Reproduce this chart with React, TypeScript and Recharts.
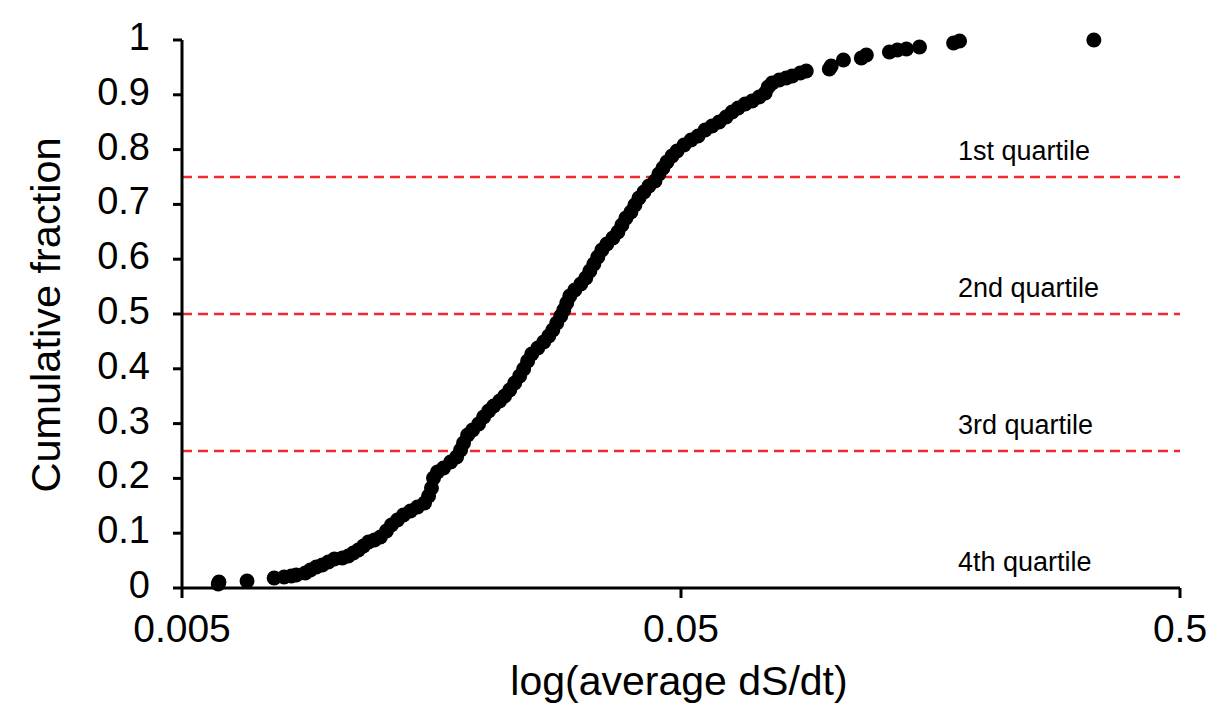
import React from 'react';
import { ScatterChart, Scatter, XAxis, YAxis, ReferenceLine, Label } from 'recharts';

// average dS/dt for each gene (x) and its cumulative fraction (y)
const dsdt = [
  0.00591, 0.00593, 0.00675, 0.00765, 0.00801, 0.00828, 0.00847, 0.00883, 0.00904, 0.00929,
  0.00955, 0.00982, 0.0101, 0.01048, 0.01077, 0.01102, 0.01128, 0.01155, 0.01182, 0.01215,
  0.01249, 0.01284, 0.01314, 0.01351, 0.01389, 0.01435, 0.01482, 0.01531, 0.0156, 0.01581,
  0.01596, 0.01625, 0.01671, 0.01727, 0.01775, 0.01808, 0.01833, 0.01868, 0.01911, 0.01965,
  0.02011, 0.02058, 0.02106, 0.02165, 0.02216, 0.02268, 0.02321, 0.02375, 0.02419, 0.02464,
  0.02511, 0.02582, 0.02654, 0.02716, 0.02767, 0.02818, 0.02871, 0.02911, 0.02951, 0.02993,
  0.03063, 0.03149, 0.03222, 0.03283, 0.03344, 0.03406, 0.0347, 0.03551, 0.03651, 0.03737,
  0.03807, 0.03878, 0.03968, 0.04042, 0.04118, 0.04214, 0.04312, 0.04434, 0.04516, 0.04601,
  0.04686, 0.04796, 0.04909, 0.0507, 0.05237, 0.05409, 0.05587, 0.0577, 0.05961, 0.06156,
  0.06329, 0.06508, 0.06721, 0.06943, 0.07171, 0.07373, 0.07476, 0.07616, 0.07867, 0.08124,
  0.08353, 0.08669, 0.08913, 0.09913, 0.1, 0.1058, 0.1149, 0.1176, 0.1308, 0.1357,
  0.1415, 0.1503, 0.1759, 0.1808, 0.336,
];

const cumFraction = [
  0.0073, 0.0109, 0.0128, 0.0182, 0.0201, 0.0219, 0.0237, 0.0274, 0.0328, 0.0383,
  0.042, 0.0474, 0.0529, 0.0547, 0.0584, 0.0639, 0.0693, 0.0766, 0.0839, 0.0876,
  0.0931, 0.104, 0.115, 0.1241, 0.1332, 0.1405, 0.1478, 0.1551, 0.1679, 0.1825,
  0.2007, 0.2117, 0.219, 0.2299, 0.2391, 0.2518, 0.2646, 0.2792, 0.2883, 0.2993,
  0.312, 0.323, 0.3321, 0.3412, 0.3504, 0.3613, 0.3741, 0.3869, 0.3996, 0.4142,
  0.427, 0.438, 0.4489, 0.4599, 0.4708, 0.4836, 0.4964, 0.5073, 0.5201, 0.5328,
  0.5438, 0.5547, 0.5657, 0.5785, 0.5912, 0.604, 0.6168, 0.6277, 0.6387, 0.6496,
  0.6624, 0.6752, 0.6861, 0.6989, 0.7117, 0.7226, 0.7336, 0.7427, 0.7555, 0.7664,
  0.7774, 0.7883, 0.7974, 0.8084, 0.8175, 0.8248, 0.8358, 0.8431, 0.8504, 0.8595,
  0.8686, 0.8759, 0.8832, 0.8887, 0.896, 0.9033, 0.9142, 0.9215, 0.927, 0.9307,
  0.9343, 0.9398, 0.9434, 0.9471, 0.9526, 0.9635, 0.9672, 0.9726, 0.9781, 0.9818,
  0.9836, 0.9872, 0.9945, 0.9982, 1.0,
];

const xTicks = [0.005, 0.05, 0.5];
const yTicks = [0, 0.1, 0.2, 0.3, 0.4, 0.5, 0.6, 0.7, 0.8, 0.9, 1];

const quartileLevels = [0.75, 0.5, 0.25, 0];
const quartileLabels = ['1st quartile', '2nd quartile', '3rd quartile', '4th quartile'];
const dashedLevels = [0.75, 0.5, 0.25];

const data = dsdt.map((x, i) => ({ x, y: cumFraction[i] }));

const FONT = '"Liberation Sans", Arial, Helvetica, sans-serif';

const XTick = (props: any) => {
  const { x, y, payload } = props;
  return (
    <text x={x} y={y + 30} textAnchor="middle" fontSize={39} fontFamily={FONT} fill="#000">
      {String(payload.value)}
    </text>
  );
};

const YTick = (props: any) => {
  const { x, y, payload } = props;
  return (
    <text x={x} y={y + 10} textAnchor="end" fontSize={38} fontFamily={FONT} fill="#000">
      {String(payload.value)}
    </text>
  );
};

const Dot = (props: any) => {
  const { cx, cy } = props;
  return <circle cx={cx} cy={cy} r={7.5} fill="#000" />;
};

export default function App() {
  return (
    <div style={{ width: 1206, height: 698 }}>
      <ScatterChart
        width={1206}
        height={698}
        margin={{ top: 32, right: 34, bottom: 0, left: 0 }}
        style={{ background: '#fff' }}
      >
        <XAxis
          type="number"
          dataKey="x"
          scale="log"
          domain={[0.005, 0.5]}
          ticks={xTicks}
          allowDataOverflow
          height={118}
          tickSize={10}
          tickMargin={14}
          axisLine={{ stroke: '#000', strokeWidth: 3 }}
          tickLine={{ stroke: '#000', strokeWidth: 3 }}
          tick={<XTick />}
        >
          <Label
            content={(p: any) => {
              const vb = p.viewBox || { x: 174, y: 580, width: 998, height: 118 };
              return (
                <text
                  x={vb.x + vb.width / 2 - 2}
                  y={vb.y + 107}
                  textAnchor="middle"
                  fontSize={41}
                  fontFamily={FONT}
                  fill="#000"
                >
                  log(average dS/dt)
                </text>
              );
            }}
          />
        </XAxis>
        <YAxis
          type="number"
          dataKey="y"
          domain={[0, 1]}
          ticks={yTicks}
          width={174}
          tickSize={9}
          tickMargin={23}
          axisLine={{ stroke: '#000', strokeWidth: 3 }}
          tickLine={{ stroke: '#000', strokeWidth: 3 }}
          tick={<YTick />}
        >
          <Label
            content={(p: any) => {
              const vb = p.viewBox || { x: 0, y: 32, width: 174, height: 548 };
              const cx = vb.x + 52;
              const cy = vb.y + vb.height / 2 + 1;
              return (
                <text
                  x={cx}
                  y={cy}
                  transform={`rotate(-90, ${cx}, ${cy})`}
                  textAnchor="middle"
                  fontSize={41.5}
                  fontFamily={FONT}
                  fill="#000"
                >
                  Cumulative fraction
                </text>
              );
            }}
          />
        </YAxis>
        <Scatter data={data} shape={<Dot />} isAnimationActive={false} />
        {dashedLevels.map((lvl) => (
          <ReferenceLine
            key={'d' + lvl}
            y={lvl}
            stroke="#f22a2f"
            strokeWidth={2.5}
            strokeDasharray="10 6"
          />
        ))}
        {quartileLevels.map((lvl, i) => (
          <ReferenceLine
            key={'q' + lvl}
            y={lvl}
            stroke="none"
            label={(p: any) => {
              const vb = p.viewBox || { x: 174, y: 0, width: 998 };
              return (
                <text
                  x={vb.x + 776}
                  y={vb.y - 17}
                  textAnchor="start"
                  fontSize={27}
                  fontFamily={FONT}
                  fill="#000"
                >
                  {quartileLabels[i]}
                </text>
              );
            }}
          />
        ))}
      </ScatterChart>
    </div>
  );
}
